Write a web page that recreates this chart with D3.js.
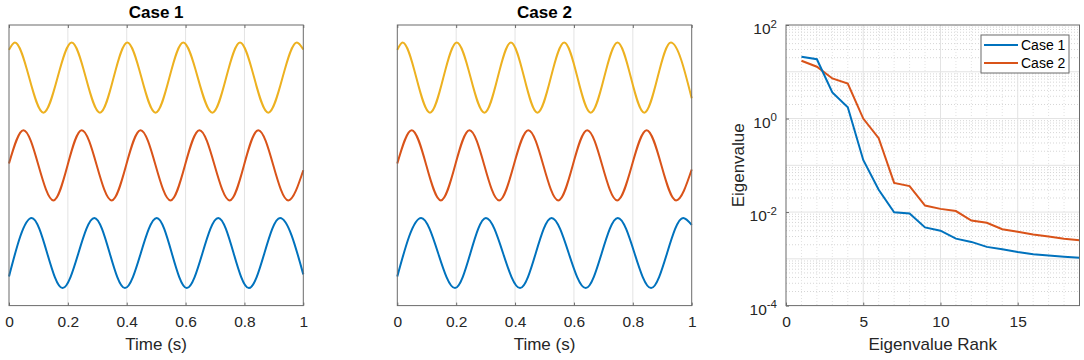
<!DOCTYPE html>
<html>
<head>
<meta charset="utf-8">
<script src="https://cdn.jsdelivr.net/npm/d3@7"></script>
<style>
  body { margin: 0; background: #fff; }
  svg { font-family: "Liberation Sans", Arial, Helvetica, sans-serif; }
</style>
</head>
<body>
<div id="chart"></div>
<script>
// time ticks for the two signal panels
const timeTicks = [0, 0.2, 0.4, 0.6, 0.8, 1];

// signals: [time, value] at start, peaks/troughs and end
// (each trace is offset vertically: blue 0, red 2.5, yellow 5)
const case1Yellow = [[0, 0.79], [0.020, 1], [0.117, -1], [0.213, 1], [0.309, -1], [0.402, 1], [0.498, -1], [0.592, 1], [0.691, -1], [0.785, 1], [0.881, -1], [0.978, 1], [1, 0.8]];
const case1Red = [[0, 0.05], [0.049, 1], [0.151, -1], [0.247, 1], [0.349, -1], [0.447, 1], [0.549, -1], [0.647, 1], [0.750, -1], [0.847, 1], [0.949, -1], [1, -0.14]];
const case1Blue = [[0, -0.67], [0.077, 1], [0.182, -1], [0.290, 1], [0.394, -1], [0.502, 1], [0.604, -1], [0.711, 1], [0.815, -1], [0.921, 1], [1, -0.61]];

const case2Yellow = [[0, 0.79], [0.018, 1], [0.111, -1], [0.202, 1], [0.296, -1], [0.386, 1], [0.476, -1], [0.567, 1], [0.657, -1], [0.748, 1], [0.839, -1], [0.929, 1], [1, -0.59]];
const case2Red = [[0, 0.05], [0.049, 1], [0.148, -1], [0.245, 1], [0.346, -1], [0.445, 1], [0.547, -1], [0.645, 1], [0.747, -1], [0.847, 1], [0.947, -1], [1, -0.12]];
const case2Blue = [[0, -0.67], [0.081, 1], [0.196, -1], [0.301, 1], [0.417, -1], [0.524, 1], [0.640, -1], [0.749, 1], [0.862, -1], [0.971, 1], [1, 0.8]];

// eigenvalue spectra
const ranks = d3.range(1, 20);
const eigCase1 = [21, 18.5, 3.6, 1.74, 0.13, 0.03, 0.0099, 0.0093, 0.0047, 0.0040, 0.0027, 0.0023, 0.0018, 0.0016, 0.0014, 0.00126, 0.00118, 0.00111, 0.00105];
const eigCase2 = [17.2, 12.8, 7.2, 5.6, 1.0, 0.38, 0.042, 0.036, 0.0138, 0.0117, 0.0105, 0.0066, 0.0059, 0.0043, 0.0038, 0.0033, 0.0030, 0.0027, 0.0025];
const rankTicks = [0, 5, 10, 15];
const eigTicks = [1e-4, 1e-2, 1e0, 1e2];
const seriesNames = ["Case 1", "Case 2"];

const colors = { blue: "#0072BD", red: "#D95319", yellow: "#EDB120" };
const axisColor = "#6b6b6b";
const gridColor = "#e3e3e3";
const tickFont = 15.5, labelFont = 17;

const svg = d3.select("#chart").append("svg")
  .attr("width", 1084)
  .attr("height", 360);

const plotTop = 25, plotBottom = 305.6;

// ---- signal panels ----
function signalPanel(x0, x1, title, traces) {
  const x = d3.scaleLinear().domain([0, 1]).range([x0, x1]);
  const y = d3.scaleLinear().domain([-1.5, 6.5]).range([plotBottom, plotTop]);
  const g = svg.append("g");

  // vertical grid
  g.selectAll("line.grid").data(timeTicks.slice(1, -1)).enter()
    .append("line")
    .attr("x1", d => x(d)).attr("x2", d => x(d))
    .attr("y1", plotTop).attr("y2", plotBottom)
    .attr("stroke", gridColor).attr("stroke-width", 1);

  const line = d3.line()
    .x(d => x(d[0]))
    .y(d => y(d[1]))
    .curve(d3.curveMonotoneX);

  traces.forEach(tr => {
    g.append("path")
      .datum(tr.data.map(d => [d[0], d[1] + tr.offset]))
      .attr("fill", "none")
      .attr("stroke", tr.color)
      .attr("stroke-width", 2)
      .attr("d", line);
  });

  // box + ticks
  g.append("rect")
    .attr("x", x0).attr("y", plotTop)
    .attr("width", x1 - x0).attr("height", plotBottom - plotTop)
    .attr("fill", "none").attr("stroke", axisColor);

  const xAxis = g.append("g")
    .attr("transform", `translate(0,${plotBottom})`)
    .call(d3.axisBottom(x).tickValues(timeTicks).tickSize(-3).tickPadding(10).tickFormat(d3.format("~g")));
  xAxis.select(".domain").remove();
  xAxis.selectAll(".tick line").attr("stroke", axisColor);
  xAxis.selectAll("text").attr("font-size", tickFont).attr("fill", "#262626").attr("font-family", null);

  const xTop = g.append("g")
    .attr("transform", `translate(0,${plotTop})`)
    .call(d3.axisTop(x).tickValues(timeTicks).tickSize(-3).tickFormat(""));
  xTop.select(".domain").remove();
  xTop.selectAll(".tick line").attr("stroke", axisColor);

  g.append("text")
    .attr("x", (x0 + x1) / 2).attr("y", 18)
    .attr("text-anchor", "middle")
    .attr("font-size", 17).attr("font-weight", "bold")
    .attr("fill", "#000")
    .text(title);

  g.append("text")
    .attr("x", (x0 + x1) / 2).attr("y", 350)
    .attr("text-anchor", "middle")
    .attr("font-size", labelFont).attr("fill", "#262626")
    .text("Time (s)");
}

signalPanel(9, 303.3, "Case 1", [
  { data: case1Yellow, offset: 5, color: colors.yellow },
  { data: case1Red, offset: 2.5, color: colors.red },
  { data: case1Blue, offset: 0, color: colors.blue }
]);
signalPanel(397.3, 691.7, "Case 2", [
  { data: case2Yellow, offset: 5, color: colors.yellow },
  { data: case2Red, offset: 2.5, color: colors.red },
  { data: case2Blue, offset: 0, color: colors.blue }
]);

// ---- eigenvalue panel ----
const ex0 = 786, ex1 = 1079.5;
const xr = d3.scaleLinear().domain([0, 19]).range([ex0, ex1]);
const yl = d3.scaleLog().domain([1e-4, 1e2]).range([plotBottom, plotTop]);
const ge = svg.append("g");

// minor grid
const minorY = [];
[1e-4, 1e-3, 1e-2, 1e-1, 1e0, 1e1].forEach(dec => {
  for (let k = 2; k <= 9; k++) minorY.push(dec * k);
});
ge.selectAll("line.minory").data(minorY).enter()
  .append("line")
  .attr("x1", ex0).attr("x2", ex1)
  .attr("y1", d => yl(d)).attr("y2", d => yl(d))
  .attr("stroke", "#d6d6d6").attr("stroke-dasharray", "1,2");
ge.selectAll("line.minorx").data(d3.range(1, 19).filter(d => d % 5 !== 0)).enter()
  .append("line")
  .attr("x1", d => xr(d)).attr("x2", d => xr(d))
  .attr("y1", plotTop).attr("y2", plotBottom)
  .attr("stroke", "#e2e2e2").attr("stroke-dasharray", "1,2");

// major grid
ge.selectAll("line.majory").data([1e-3, 1e-2, 1e-1, 1e0, 1e1]).enter()
  .append("line")
  .attr("x1", ex0).attr("x2", ex1)
  .attr("y1", d => yl(d)).attr("y2", d => yl(d))
  .attr("stroke", gridColor);
ge.selectAll("line.majorx").data([5, 10, 15]).enter()
  .append("line")
  .attr("x1", d => xr(d)).attr("x2", d => xr(d))
  .attr("y1", plotTop).attr("y2", plotBottom)
  .attr("stroke", gridColor);

const eigLine = d3.line()
  .x((d, i) => xr(ranks[i]))
  .y(d => yl(d));

ge.append("path").datum(eigCase2)
  .attr("fill", "none").attr("stroke", colors.red).attr("stroke-width", 2)
  .attr("d", eigLine);
ge.append("path").datum(eigCase1)
  .attr("fill", "none").attr("stroke", colors.blue).attr("stroke-width", 2)
  .attr("d", eigLine);

ge.append("rect")
  .attr("x", ex0).attr("y", plotTop)
  .attr("width", ex1 - ex0).attr("height", plotBottom - plotTop)
  .attr("fill", "none").attr("stroke", axisColor);

const xb = ge.append("g")
  .attr("transform", `translate(0,${plotBottom})`)
  .call(d3.axisBottom(xr).tickValues(rankTicks).tickSize(-3).tickPadding(10));
xb.select(".domain").remove();
xb.selectAll(".tick line").attr("stroke", axisColor);
xb.selectAll("text").attr("font-size", tickFont).attr("fill", "#262626").attr("font-family", null);

const yAx = ge.append("g")
  .attr("transform", `translate(${ex0},0)`)
  .call(d3.axisLeft(yl).tickValues(eigTicks).tickSize(-3).tickPadding(9).tickFormat(""));
yAx.select(".domain").remove();
yAx.selectAll(".tick line").attr("stroke", axisColor);
yAx.selectAll(".tick").each(function (d) {
  const t = d3.select(this).select("text")
    .attr("font-size", tickFont).attr("fill", "#262626").attr("font-family", null)
    .attr("text-anchor", "end").attr("dy", "0.55em");
  t.text(null);
  t.append("tspan").text("10");
  t.append("tspan").attr("dy", "-0.55em").attr("font-size", 11.5).text(Math.round(Math.log10(d)));
});

ge.append("text")
  .attr("x", (ex0 + ex1) / 2).attr("y", 350)
  .attr("text-anchor", "middle")
  .attr("font-size", labelFont).attr("fill", "#262626")
  .text("Eigenvalue Rank");

ge.append("text")
  .attr("transform", `translate(744,${(plotTop + plotBottom) / 2}) rotate(-90)`)
  .attr("text-anchor", "middle")
  .attr("font-size", labelFont).attr("fill", "#262626")
  .text("Eigenvalue");

// legend
const legend = ge.append("g").attr("transform", "translate(981,35)");
legend.append("rect")
  .attr("width", 88).attr("height", 38)
  .attr("fill", "#fff").attr("stroke", axisColor);
[colors.blue, colors.red].forEach((c, i) => {
  legend.append("line")
    .attr("x1", 3).attr("x2", 37)
    .attr("y1", 10 + i * 18).attr("y2", 10 + i * 18)
    .attr("stroke", c).attr("stroke-width", 2);
  legend.append("text")
    .attr("x", 40).attr("y", 15 + i * 18)
    .attr("font-size", 14).attr("fill", "#000")
    .text(seriesNames[i]);
});
</script>
</body>
</html>
